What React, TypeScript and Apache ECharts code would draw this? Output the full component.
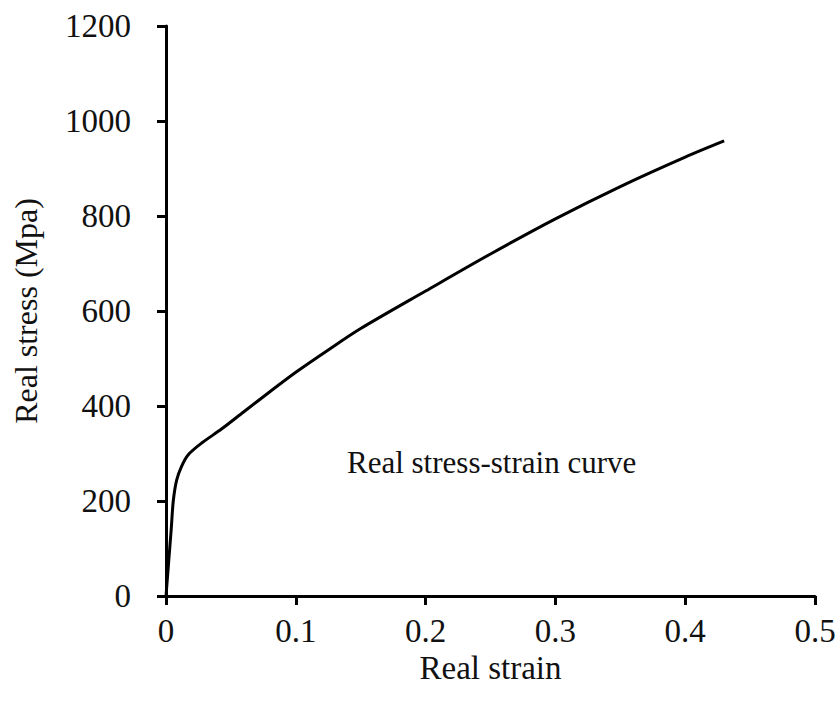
import React, { useEffect, useRef } from "react";
import * as echarts from "echarts";

const strain = [0, 0.002, 0.004, 0.0056, 0.0082, 0.012, 0.017, 0.0275, 0.043, 0.06, 0.08, 0.1, 0.125, 0.15, 0.2, 0.25, 0.3, 0.35, 0.4, 0.43];
const stress = [0, 70, 140, 200, 244, 273, 297, 322, 352, 388, 430, 471, 518, 563, 642, 720, 794, 862, 924, 958];
const xTicks = [0, 0.1, 0.2, 0.3, 0.4, 0.5];
const yTicks = [0, 200, 400, 600, 800, 1000, 1200];
const annotation = "Real stress-strain curve";

const FONT = "'Liberation Serif', 'Times New Roman', serif";

export default function App() {
  const ref = useRef<HTMLDivElement>(null);
  useEffect(() => {
    if (!ref.current) return;
    const chart = echarts.init(ref.current, undefined, { renderer: "svg" });
    const data = strain.map((s, i) => [s, stress[i]]);
    chart.setOption({
      animation: false,
      backgroundColor: "#fff",
      grid: { left: 166, right: 25, top: 26, bottom: 107, containLabel: false },
      xAxis: {
        type: "value",
        min: xTicks[0],
        max: xTicks[xTicks.length - 1],
        interval: 0.1,
        name: "Real strain",
        nameLocation: "middle",
        nameGap: 46,
        nameTextStyle: { fontFamily: FONT, fontSize: 33, color: "#111" },
        axisLine: { show: true, lineStyle: { color: "#000", width: 3 } },
        axisTick: { show: true, inside: false, length: 9, lineStyle: { color: "#000", width: 3 } },
        axisLabel: {
          fontFamily: FONT,
          fontSize: 33,
          color: "#111",
          margin: 18,
          formatter: (v: number) => String(Math.round(v * 10) / 10),
        },
        splitLine: { show: false },
      },
      yAxis: {
        type: "value",
        min: yTicks[0],
        max: yTicks[yTicks.length - 1],
        interval: 200,
        name: "Real stress (Mpa)",
        nameLocation: "middle",
        nameRotate: 90,
        nameGap: 124,
        nameTextStyle: { fontFamily: FONT, fontSize: 32, color: "#111" },
        axisLine: { show: true, lineStyle: { color: "#000", width: 3 } },
        axisTick: { show: true, inside: false, length: 9, lineStyle: { color: "#000", width: 3 } },
        axisLabel: {
          fontFamily: FONT,
          fontSize: 33,
          color: "#111",
          margin: 35,
          formatter: (v: number) => String(v),
        },
        splitLine: { show: false },
      },
      graphic: [
        {
          type: "text",
          x: 347,
          y: 462,
          style: {
            text: annotation,
            font: `31px ${FONT}`,
            fill: "#111",
            textVerticalAlign: "middle",
            verticalAlign: "middle",
          },
        },
      ],
      series: [
        {
          type: "line",
          data,
          smooth: 0.3,
          showSymbol: false,
          symbol: "none",
          lineStyle: { color: "#000", width: 3 },
        },
      ],
    });
    return () => chart.dispose();
  }, []);
  return <div ref={ref} style={{ position: "fixed", left: 0, top: 0, width: 840, height: 703 }} />;
}
